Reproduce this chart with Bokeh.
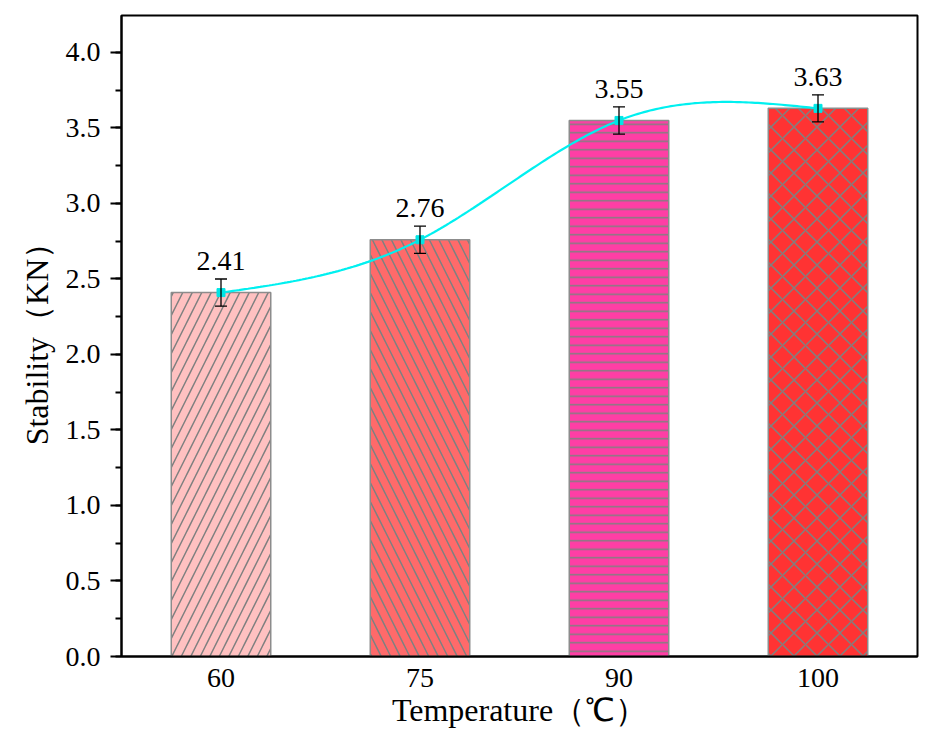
import numpy as np
from bokeh.plotting import figure
from bokeh.models import ColumnDataSource, Whisker, FixedTicker, Range1d, NumeralTickFormatter
from bokeh.core.properties import value
from bokeh.embed import file_html
from bokeh.resources import INLINE

categories = ["60", "75", "90", "100"]
stability = [2.41, 2.76, 3.55, 3.63]
errors = [0.09, 0.09, 0.09, 0.09]
colors = ["#FFC1C1", "#FF6A6A", "#FF3EA5", "#FF3333"]
hatches = ["/", "\\", "-", "x"]
hatch_scales = [19, 19, 8.5, 23]

xs = list(range(1, len(categories) + 1))

# natural cubic spline through the data points
def natural_spline(x, y, n=200):
    x = np.asarray(x, float); y = np.asarray(y, float)
    k = len(x); h = np.diff(x)
    A = np.zeros((k, k)); b = np.zeros(k)
    A[0, 0] = 1; A[-1, -1] = 1
    for i in range(1, k - 1):
        A[i, i - 1] = h[i - 1]; A[i, i] = 2 * (h[i - 1] + h[i]); A[i, i + 1] = h[i]
        b[i] = 6 * ((y[i + 1] - y[i]) / h[i] - (y[i] - y[i - 1]) / h[i - 1])
    M = np.linalg.solve(A, b)
    xx = np.linspace(x[0], x[-1], n); yy = np.zeros_like(xx)
    for j, t in enumerate(xx):
        i = min(np.searchsorted(x, t, side="right") - 1, k - 2)
        a = x[i + 1] - t; c = t - x[i]
        yy[j] = (M[i] * a**3 + M[i + 1] * c**3) / (6 * h[i]) + (y[i] / h[i] - M[i] * h[i] / 6) * a + (y[i + 1] / h[i] - M[i + 1] * h[i] / 6) * c
    return xx, yy

src = ColumnDataSource(dict(
    x=xs, y=stability, err=errors, color=colors, hatch=hatches, hs=hatch_scales,
    lower=[v - e for v, e in zip(stability, errors)],
    upper=[v + e for v, e in zip(stability, errors)],
    label=[f"{v:.2f}" for v in stability],
))

p = figure(width=925, height=740, output_backend="svg", toolbar_location=None,
           x_range=Range1d(0.5, 4.5), y_range=Range1d(0, 4.245),
           min_border_left=121, min_border_right=8, min_border_top=15, min_border_bottom=84)
p.background_fill_color = "white"
p.border_fill_color = "white"
p.xgrid.visible = False
p.ygrid.visible = False
p.outline_line_color = "black"
p.outline_line_width = 2

p.vbar(x="x", top="y", width=0.5, bottom=0, source=src, fill_color="color",
       line_color="#8C8C8C", line_width=1.5, hatch_pattern="hatch", hatch_color="#808080",
       hatch_scale="hs", hatch_weight=1.5)

w = Whisker(base="x", lower="lower", upper="upper", source=src, line_color="black", line_width=1.3)
w.upper_head.size = 12; w.lower_head.size = 12
w.upper_head.line_width = 1.3; w.lower_head.line_width = 1.3
w.level = "overlay"
p.add_layout(w)

sx, sy = natural_spline(xs, stability)
p.line(sx, sy, line_color="#00F0F0", line_width=2.2, level="overlay")
p.scatter(x="x", y="y", source=src, marker="square", size=8, color="#00E5E5", level="overlay")

p.text(x="x", y="upper", text="label", source=src, text_align="center", text_baseline="bottom",
       y_offset=-9, text_font=value("Liberation Serif"), text_font_size="28px", text_color="black")

p.xaxis.ticker = FixedTicker(ticks=xs)
p.xaxis.major_label_overrides = {x: c for x, c in zip(xs, categories)}
p.xaxis.major_tick_line_color = None
p.xaxis.minor_tick_line_color = None
p.xaxis.axis_line_width = 2
p.xaxis.major_label_standoff = 6
p.xaxis.axis_label = "Temperature（℃）"

p.yaxis.ticker = FixedTicker(ticks=[i * 0.5 for i in range(9)], minor_ticks=[i * 0.25 for i in range(17)])
p.yaxis.formatter = NumeralTickFormatter(format="0.0")
p.yaxis.axis_line_width = 2
p.yaxis.major_tick_line_width = 2
p.yaxis.minor_tick_line_width = 2
p.yaxis.major_tick_out = 11
p.yaxis.major_tick_in = 0
p.yaxis.minor_tick_out = 6
p.yaxis.minor_tick_in = 0
p.yaxis.major_label_standoff = 10
p.yaxis.axis_label = "Stability（KN）"

for ax in (p.xaxis, p.yaxis):
    ax.major_label_text_font = "Liberation Serif"
    ax.major_label_text_font_size = "28px"
    ax.major_label_text_color = "black"
    ax.axis_label_text_font = "Liberation Serif"
    ax.axis_label_text_font_size = "32px"
    ax.axis_label_text_font_style = "normal"
    ax.axis_label_text_color = "black"
    ax.axis_line_color = "black"
p.xaxis.axis_label_standoff = 2
p.yaxis.axis_label_standoff = 8

open("out.html", "w").write(file_html(p, INLINE))
